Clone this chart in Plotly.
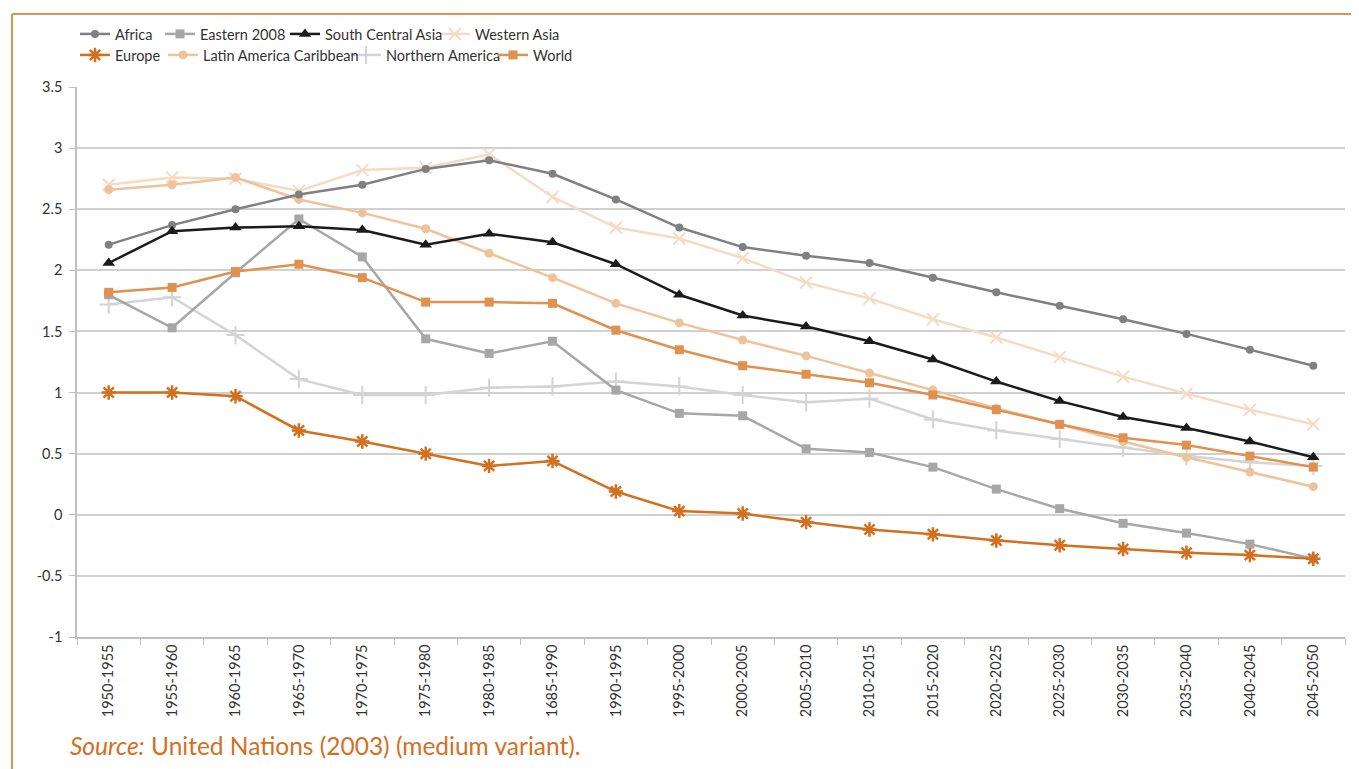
import plotly.graph_objects as go

periods = ["1950-1955", "1955-1960", "1960-1965", "1965-1970", "1970-1975", "1975-1980",
           "1980-1985", "1685-1990", "1990-1995", "1995-2000", "2000-2005", "2005-2010",
           "2010-2015", "2015-2020", "2020-2025", "2025-2030", "2030-2035", "2035-2040",
           "2040-2045", "2045-2050"]

africa = [2.21, 2.37, 2.50, 2.62, 2.70, 2.83, 2.90, 2.79, 2.58, 2.35, 2.19, 2.12, 2.06, 1.94, 1.82, 1.71, 1.60, 1.48, 1.35, 1.22]
eastern = [1.80, 1.53, 1.98, 2.42, 2.11, 1.44, 1.32, 1.42, 1.02, 0.83, 0.81, 0.54, 0.51, 0.39, 0.21, 0.05, -0.07, -0.15, -0.24, -0.36]
sca = [2.06, 2.32, 2.35, 2.36, 2.33, 2.21, 2.30, 2.23, 2.05, 1.80, 1.63, 1.54, 1.42, 1.27, 1.09, 0.93, 0.80, 0.71, 0.60, 0.47]
wasia = [2.70, 2.76, 2.75, 2.65, 2.82, 2.84, 2.95, 2.60, 2.35, 2.26, 2.10, 1.90, 1.77, 1.60, 1.45, 1.29, 1.13, 0.99, 0.86, 0.74]
europe = [1.00, 1.00, 0.97, 0.69, 0.60, 0.50, 0.40, 0.44, 0.19, 0.03, 0.01, -0.06, -0.12, -0.16, -0.21, -0.25, -0.28, -0.31, -0.33, -0.36]
latam = [2.66, 2.70, 2.76, 2.58, 2.47, 2.34, 2.14, 1.94, 1.73, 1.57, 1.43, 1.30, 1.16, 1.02, 0.87, 0.74, 0.60, 0.47, 0.35, 0.23]
namerica = [1.72, 1.78, 1.47, 1.11, 0.98, 0.98, 1.04, 1.05, 1.09, 1.05, 0.98, 0.92, 0.95, 0.78, 0.69, 0.62, 0.55, 0.48, 0.43, 0.40]
world = [1.82, 1.86, 1.99, 2.05, 1.94, 1.74, 1.74, 1.73, 1.51, 1.35, 1.22, 1.15, 1.08, 0.98, 0.86, 0.74, 0.63, 0.57, 0.48, 0.39]

y_ticks = [-1, -0.5, 0, 0.5, 1, 1.5, 2, 2.5, 3, 3.5]
y_tick_labels = ["-1", "-0.5", "0", "0.5", "1", "1.5", "2", "2.5", "3", "3.5"]

# page offset (default body margin of the html page)
OFF = 8
W, H = 1359 - OFF, 769 - OFF
L, R, T, B = 77 - OFF, 14, 87 - OFF, 132
FONT = "Lato"

series = [
    # name, data, color, symbol, size, marker line width, legend id, text x, text y (screen px)
    ("Northern America", namerica, "#d4d4d4", "cross-thin-open", 13, 2, "legend7", 386, 55),
    ("Western Asia", wasia, "#f4dcc4", "x-thin-open", 12, 2, "legend4", 475, 34),
    ("Latin America Caribbean", latam, "#eec39a", "circle", 9, 0, "legend6", 203, 55),
    ("Eastern 2008", eastern, "#a7a7aa", "square", 9, 0, "legend2", 200, 34),
    ("Africa", africa, "#808083", "circle", 8, 0, "legend", 115, 34),
    ("World", world, "#e0904f", "square", 9, 0, "legend8", 533, 55),
    ("South Central Asia", sca, "#1c1a1a", "triangle-up", 11, 0, "legend3", 325, 34),
    ("Europe", europe, "#d3701f", "asterisk-open", 12, 2.5, "legend5", 115, 55),
]

fig = go.Figure()
legends = {}
for name, data, color, sym, size, lw, lg, tx, ty in series:
    mk = dict(symbol=sym, size=size, color=color)
    if lw:
        mk["line"] = dict(width=lw, color=color)
    fig.add_trace(go.Scatter(
        x=periods, y=data, name=name, mode="lines+markers",
        line=dict(color=color, width=2.5), marker=mk, legend=lg, showlegend=True,
    ))
    legends[lg] = dict(
        x=(tx - 40 - OFF) / W, y=1 - (ty - OFF) / H, xref="container", yref="container",
        xanchor="left", yanchor="middle", orientation="h",
        font=dict(family=FONT, size=14.5, color="#333333"),
        bgcolor="rgba(0,0,0,0)", borderwidth=0, tracegroupgap=0,
    )

def px_x(p):
    return (p - OFF - L) / (W - L - R)

def px_y(p):
    return (H - B - (p - OFF)) / (H - T - B)

border = "#e0904f"
fig.add_shape(type="line", xref="paper", yref="paper", x0=px_x(12), x1=px_x(1359), y0=px_y(14), y1=px_y(14),
              line=dict(color=border, width=2))
fig.add_shape(type="line", xref="paper", yref="paper", x0=px_x(12), x1=px_x(12), y0=px_y(14), y1=px_y(769),
              line=dict(color=border, width=2))

fig.add_annotation(
    text="<i>Source:</i> United Nations (2003) (medium variant).",
    xref="paper", yref="paper", x=px_x(68), y=px_y(745), xanchor="left", yanchor="middle",
    showarrow=False, font=dict(family=FONT, size=24.5, color="#d3701f"),
)

fig.update_layout(
    width=W, height=H,
    margin=dict(l=L, r=R, t=T, b=B, autoexpand=False),
    paper_bgcolor="white", plot_bgcolor="white",
    font=dict(family=FONT, size=14, color="#333333"),
    showlegend=True,
    **legends,
)
fig.update_xaxes(
    type="category", range=[-0.5, len(periods) - 0.5], tickangle=-90, tickson="boundaries",
    ticks="outside", ticklen=6, tickcolor="#bfbfbf", showline=True, linecolor="#bfbfbf",
    linewidth=1.5, showgrid=False, automargin=False, ticklabelstandoff=0,
    tickfont=dict(family=FONT, size=14.5, color="#333333"),
)
fig.update_yaxes(
    range=[-1, 3.5], tickvals=y_ticks, ticktext=y_tick_labels, ticks="outside", ticklen=6,
    tickcolor="#bfbfbf", showline=True, linecolor="#bfbfbf", linewidth=1.5,
    gridcolor="#d0d0d0", gridwidth=1.5, zeroline=False, automargin=False,
    ticklabelstandoff=4, tickfont=dict(family=FONT, size=14.5, color="#333333"),
)

fig.write_html("out.html")
